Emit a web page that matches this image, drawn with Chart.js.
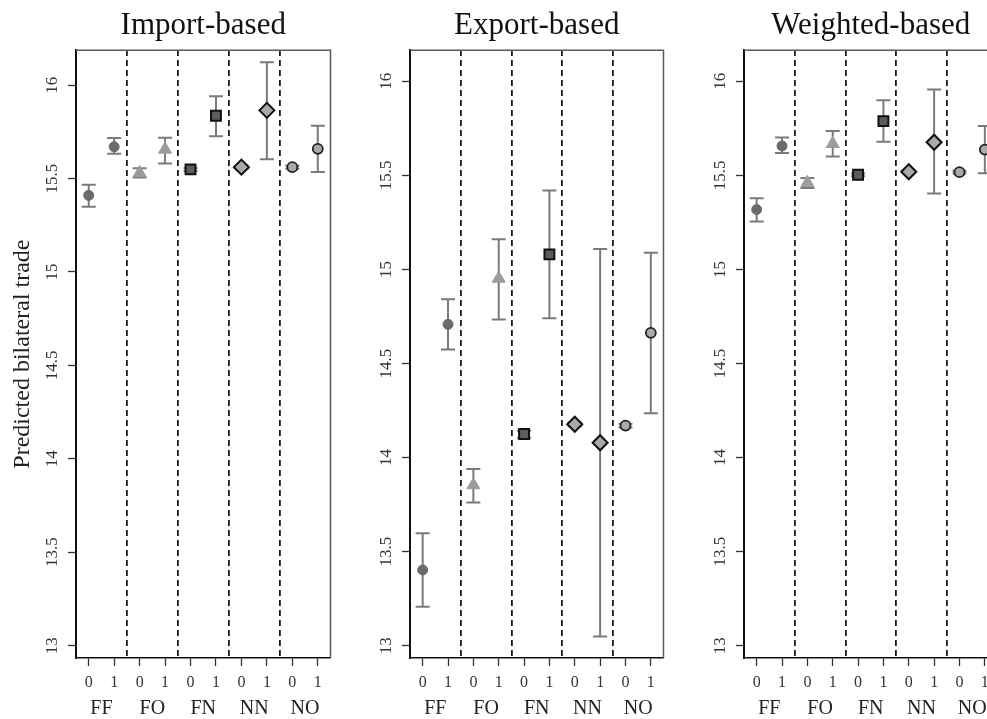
<!DOCTYPE html>
<html>
<head>
<meta charset="utf-8">
<script src="https://cdn.jsdelivr.net/npm/chart.js@4.4.1/dist/chart.umd.min.js"></script>
<style>
  html, body { margin: 0; padding: 0; background: #fff; overflow: hidden; width: 987px; height: 719px; }
  .panel { position: absolute; top: 0; height: 719px; }
</style>
</head>
<body>
<div class="panel" style="left:0px;width:340px"><canvas id="imp" width="340" height="719"></canvas></div>
<div class="panel" style="left:333px;width:340px"><canvas id="exp" width="340" height="719"></canvas></div>
<div class="panel" style="left:667px;width:340px"><canvas id="wgt" width="340" height="719"></canvas></div>
<script>
// Firm-pair groups and the 0/1 level shown under each tick
const groups = ['FF', 'FO', 'FN', 'NN', 'NO'];
const levels = ['0', '1'];
const yTicks = [13, 13.5, 14, 14.5, 15, 15.5, 16];

// Import-based predictions with confidence bounds
const importEst = [15.41, 15.67, 15.53, 15.656, 15.549, 15.836, 15.561, 15.865, 15.561, 15.659];
const importLo  = [15.349, 15.633, 15.506, 15.581, 15.541, 15.727, 15.553, 15.603, 15.553, 15.535];
const importHi  = [15.467, 15.717, 15.555, 15.718, 15.557, 15.941, 15.569, 16.123, 15.569, 15.782];

// Export-based predictions with confidence bounds
const exportEst = [13.403, 14.708, 13.854, 14.952, 14.125, 15.08, 14.177, 14.079, 14.17, 14.663];
const exportLo  = [13.208, 14.575, 13.761, 14.734, 14.105, 14.74, 14.167, 13.049, 14.16, 14.235];
const exportHi  = [13.598, 14.842, 13.939, 15.161, 14.142, 15.42, 14.187, 15.109, 14.18, 15.088];

// Weighted-based predictions with confidence bounds
const weightedEst = [15.318, 15.656, 15.46, 15.668, 15.503, 15.788, 15.519, 15.676, 15.517, 15.637];
const weightedLo  = [15.255, 15.619, 15.433, 15.6, 15.495, 15.679, 15.512, 15.403, 15.51, 15.511];
const weightedHi  = [15.378, 15.701, 15.486, 15.735, 15.511, 15.899, 15.526, 15.956, 15.524, 15.762];

const SERIF = "'Liberation Serif', 'DejaVu Serif', serif";

// Marker look for each group
const markerStyles = [
  { pointStyle: 'circle',   pointRadius: 5,   backgroundColor: '#6b6b6b', borderColor: '#6b6b6b', borderWidth: 1 },
  { pointStyle: 'triangle', pointRadius: 7.5, backgroundColor: '#9c9c9c', borderColor: '#9c9c9c', borderWidth: 1 },
  { pointStyle: 'rect',     pointRadius: 7,   backgroundColor: '#5c5c5c', borderColor: '#111',    borderWidth: 2 },
  { pointStyle: 'rectRot',  pointRadius: 7.5, backgroundColor: '#a9a9a9', borderColor: '#111',    borderWidth: 2 },
  { pointStyle: 'circle',   pointRadius: 5,   backgroundColor: '#a9a9a9', borderColor: '#222',    borderWidth: 1.8 }
];

// Top and right edges of the plotting box
const boxFrame = {
  id: 'boxFrame',
  beforeDatasetsDraw(chart) {
    const { ctx, chartArea: a } = chart;
    ctx.save();
    ctx.strokeStyle = '#5a5a5a';
    ctx.lineWidth = 1.5;
    ctx.beginPath();
    ctx.moveTo(a.left, a.top);
    ctx.lineTo(a.right, a.top);
    ctx.lineTo(a.right, a.bottom);
    ctx.stroke();
    ctx.restore();
  }
};

function makePanel(id, title, est, lo, hi, yMin, yMax, yWidth, padRight, yTitle) {
  const datasets = groups.map((g, gi) => {
    const s = markerStyles[gi];
    return {
      type: 'scatter',
      label: g,
      order: 0,
      data: [0, 1].map(k => ({ x: 2 * gi + k + 1, y: est[2 * gi + k] })),
      pointStyle: s.pointStyle,
      pointRadius: s.pointRadius,
      pointHoverRadius: s.pointRadius,
      pointBackgroundColor: s.backgroundColor,
      pointBorderColor: s.borderColor,
      pointBorderWidth: s.borderWidth,
      showLine: false
    };
  });

  // Confidence intervals: one vertical segment per estimate, capped at both ends
  const whiskers = [];
  est.forEach((_, i) => {
    whiskers.push({ x: i + 1, y: lo[i] }, { x: i + 1, y: hi[i] }, { x: i + 1, y: null });
  });
  datasets.push({
    type: 'line',
    label: 'ci',
    order: 1,
    data: whiskers,
    borderColor: '#7a7a7a',
    borderWidth: 2,
    fill: false,
    tension: 0,
    spanGaps: false,
    pointStyle: 'line',
    pointRadius: 7,
    pointHoverRadius: 7,
    pointBorderColor: '#7a7a7a',
    pointBorderWidth: 2
  });

  return new Chart(document.getElementById(id), {
    type: 'scatter',
    data: { datasets },
    plugins: [boxFrame],
    options: {
      responsive: false,
      animation: false,
      devicePixelRatio: 1,
      events: [],
      layout: { padding: { left: 0, right: padRight, top: 0, bottom: 0 } },
      plugins: {
        legend: { display: false },
        tooltip: { enabled: false },
        title: {
          display: true,
          text: title,
          fullSize: false,
          color: '#111',
          font: { family: SERIF, size: 31, weight: 'normal' },
          padding: { top: 7, bottom: 6 }
        }
      },
      scales: {
        x: {
          type: 'linear', position: 'bottom', weight: 0, min: 0.5, max: 10.5,
          afterBuildTicks: s => { s.ticks = est.map((_, i) => ({ value: i + 1 })); },
          afterFit: s => { s.height = 39; },
          ticks: {
            autoSkip: false, maxRotation: 0, minRotation: 0, padding: 7,
            color: '#333', font: { family: SERIF, size: 16 },
            callback: (v, i) => levels[i % 2]
          },
          grid: { drawOnChartArea: false, drawTicks: true, tickLength: 8, tickColor: '#333', tickWidth: 1.3 },
          border: { color: '#111', width: 1.6 }
        },
        xg: {
          type: 'linear', position: 'bottom', weight: 1, min: 0.5, max: 10.5,
          afterBuildTicks: s => { s.ticks = groups.map((_, g) => ({ value: 2 * g + 1.5 })); },
          afterFit: s => { s.height = 22; },
          ticks: {
            autoSkip: false, maxRotation: 0, minRotation: 0, padding: 0,
            color: '#222', font: { family: SERIF, size: 20 },
            callback: (v, i) => groups[i]
          },
          grid: { display: false, drawTicks: false, tickLength: 0 },
          border: { display: false }
        },
        xd: {
          type: 'linear', position: 'top', min: 0.5, max: 10.5,
          afterBuildTicks: s => { s.ticks = groups.slice(1).map((_, g) => ({ value: 2 * g + 2.5 })); },
          afterFit: s => { s.height = 0; },
          ticks: { display: false },
          grid: { drawOnChartArea: true, drawTicks: false, color: '#1a1a1a', lineWidth: 1.8 },
          border: { display: false, dash: [6, 4] }
        },
        y: {
          type: 'linear', position: 'left', min: yMin, max: yMax,
          afterBuildTicks: s => { s.ticks = yTicks.map(v => ({ value: v })); },
          afterFit: s => { s.width = yWidth; },
          ticks: {
            minRotation: 90, maxRotation: 90, crossAlign: 'center', padding: 1,
            color: '#333', font: { family: SERIF, size: 17 },
            callback: v => String(v)
          },
          grid: { drawOnChartArea: false, tickLength: 8, tickColor: '#333', tickWidth: 1.3 },
          border: { color: '#111', width: 2 },
          title: {
            display: !!yTitle, text: yTitle || '', color: '#222',
            font: { family: SERIF, size: 24 }, padding: { top: 8, bottom: 0 }
          }
        }
      }
    }
  });
}

makePanel('imp', 'Import-based',   importEst,   importLo,   importHi,   12.934, 16.187, 76, 9, 'Predicted bilateral trade');
makePanel('exp', 'Export-based',   exportEst,   exportLo,   exportHi,   12.935, 16.165, 77, 8);
makePanel('wgt', 'Weighted-based', weightedEst, weightedLo, weightedHi, 12.935, 16.165, 77, 8);
</script>
</body>
</html>
